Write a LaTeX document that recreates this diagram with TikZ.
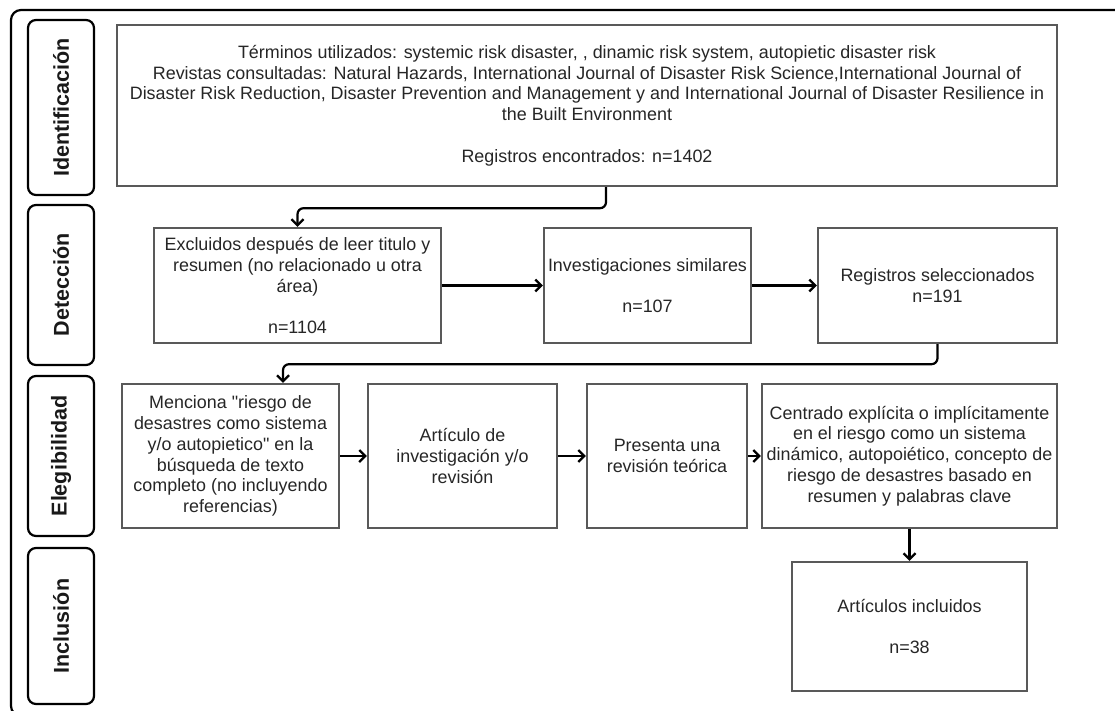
\documentclass[tikz,border=0pt]{standalone}
\usepackage{fontspec}
\setmainfont{Liberation Sans}
\usepackage{tikz}
\usetikzlibrary{arrows.meta}

\begin{document}
\begin{tikzpicture}[x=1pt,y=-1pt,
box/.style={draw=black!65, line width=2.4pt, align=center, inner sep=0pt, text=black!85, font=\fontsize{17.9}{20.8}\selectfont},
stage/.style={draw, line width=2.2pt, rounded corners=8pt, rotate=90, inner sep=0pt, minimum height=66pt, text=black!90, font=\fontsize{21.5}{24}\selectfont\bfseries},
arr/.style={-{Straight Barb[length=6pt,width=12pt]}, line width=2.2pt, rounded corners=6pt}]

\useasboundingbox (0,0) rectangle (1115,711);
\draw[line width=2.2pt, rounded corners=10pt] (11,10) rectangle (1140,716);

% stages
\node[stage, minimum width=175pt] (sid)  at (61,107.5) {Identificación};
\node[stage, minimum width=160pt] (sdet) at (61,285)   {Detección};
\node[stage, minimum width=160pt] (seleg) at (61,456)  {Elegibilidad};
\node[stage, minimum width=156pt] (sinc) at (61,626)   {Inclusión};

% identificacion
\node[box, minimum width=940pt, minimum height=161pt] (ident) at (587,105.5)
 {Términos utilizados: systemic risk disaster, , dinamic risk system, autopietic disaster risk\\
  Revistas consultadas: Natural Hazards, International Journal of Disaster Risk Science,International Journal of\\
  Disaster Risk Reduction, Disaster Prevention and Management y and International Journal of Disaster Resilience in\\
  the Built Environment\\[20.8pt]
  Registros encontrados: n=1402};

% deteccion
\node[box, minimum width=287pt, minimum height=115pt] (excl)  at (297.5,285.5)
 {Excluidos después de leer titulo y\\resumen (no relacionado u otra\\área)\\[20.8pt]n=1104};
\node[box, minimum width=207pt, minimum height=115pt] (simil) at (647.5,285.5)
 {Investigaciones similares\\[20.8pt]n=107};
\node[box, minimum width=239pt, minimum height=115pt] (selec) at (937.5,285.5)
 {Registros seleccionados\\n=191};

% elegibilidad
\node[box, minimum width=217pt, minimum height=144pt] (menc) at (230.5,456)
 {Menciona \textquotedbl riesgo de\\desastres como sistema\\y/o autopietico\textquotedbl{} en la\\búsqueda de texto\\completo (no incluyendo\\referencias)};
\node[box, minimum width=189pt, minimum height=144pt] (artic) at (462.5,456)
 {Artículo de\\investigación y/o\\revisión};
\node[box, minimum width=160pt, minimum height=144pt] (revis) at (667,456)
 {Presenta una\\revisión teórica};
\node[box, minimum width=295pt, minimum height=144pt] (centr) at (909.5,456)
 {Centrado explícita o implícitamente\\en el riesgo como un sistema\\dinámico, autopoiético, concepto de\\riesgo de desastres basado en\\resumen y palabras clave};

% inclusion
\node[box, minimum width=235pt, minimum height=129pt] (incl) at (909.5,626.5)
 {Artículos incluidos\\[20.8pt]n=38};

% connectors
\draw[arr] ([xshift=19pt]ident.south) -- ++(0,21) -| (excl.north);
\draw[arr] (excl) -- (simil);
\draw[arr] (simil) -- (selec);
\draw[arr] (selec.south) -- ++(0,20) -| ([xshift=52.5pt]menc.north);
\draw[arr] (menc) -- (artic);
\draw[arr] (artic) -- (revis);
\draw[arr] (revis) -- (centr);
\draw[arr] (centr) -- (incl);
\end{tikzpicture}
\end{document}
